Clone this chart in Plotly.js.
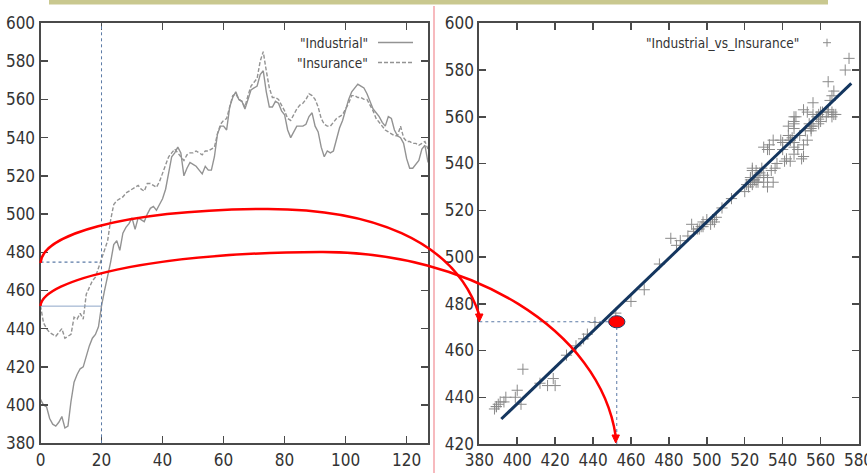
<!DOCTYPE html>
<html>
<head>
<meta charset="utf-8">
<script src="https://cdn.plot.ly/plotly-3.0.1.min.js"></script>
<style>
html,body{margin:0;padding:0;background:#fff;}
#chart{width:867px;height:473px;}
</style>
</head>
<body>
<div id="chart"></div>
<script>
// ---------- data ----------
var timeIndex = [];
for (var i = 0; i < 128; i++) timeIndex.push(i);

var industrial = [403,400,399,393,390,389,391,394,388,389,
  402,412,416,419,420,426,431,435,437,441,
  452,460,467,475,484,486,481,490,493,495,
  498,492,498,497,496,500,503,504,502,505,
  508,513,522,530,532,535,532,520,524,527,
  526,525,523,521,525,523,523,530,542,546,
  546,544,556,561,564,560,559,555,560,565,
  566,567,573,575,564,556,556,559,558,554,
  552,544,540,543,546,546,546,547,551,553,
  546,543,535,530,533,532,533,539,545,549,
  555,560,564,566,568,567,566,563,559,555,
  553,551,548,546,551,550,544,541,540,537,
  529,524,524,526,528,534,536,527];

var insurance = [452,443,440,438,437,436,438,440,435,436,
  437,446,445,448,445,458,462,465,467,472,
  476,481,486,497,505,507,508,509,511,512,
  513,514,515,513,512,516,516,515,514,517,
  521,525,530,532,534,532,530,528,531,532,
  532,533,532,531,533,533,534,535,542,547,
  549,550,556,562,563,560,559,556,562,567,
  569,571,580,585,575,566,561,561,560,557,
  554,550,549,552,555,557,558,560,563,562,
  560,556,550,547,546,546,548,550,551,552,
  555,558,562,562,561,561,560,560,557,554,
  550,548,546,544,543,542,541,541,546,540,
  538,538,537,537,536,537,538,534];

var fitX = [391.6, 576.2];
var fitY = [430.7, 574.3];

var seriesNames = ['"Industrial"', '"Insurance"', '"Industrial_vs_Insurance"'];
var markedPoint = {x: 452.5, y: 472.3};
var leftMarks = {t: 20, upper: 474.8, lower: 451.8};

// ---------- helpers ----------
var W = 867, H = 473;
function px(x){ return x / W; }
function py(y){ return 1 - y / H; }
function P(x, y){ return px(x).toFixed(5) + ',' + py(y).toFixed(5); }

var FONT = 'Liberation Sans Narrow, DejaVu Sans Condensed, Arial Narrow, sans-serif';
var GRAY = '#939393';
var AX = '#4a4a4a';
var GUIDE = '#5b7aa6';

function axisBase(range, domain){
  return {
    range: range, domain: domain, dtick: 20, tick0: 0,
    showgrid: false, zeroline: false,
    showline: true, linecolor: AX, linewidth: 2, mirror: 'ticks',
    ticks: 'inside', ticklen: 7, tickwidth: 1.5, tickcolor: AX,
    tickfont: {family: FONT, size: 17, color: '#333'},
    ticklabeloverflow: 'allow',
    fixedrange: true
  };
}

var traces = [
  {x: timeIndex, y: industrial, type: 'scatter', mode: 'lines',
   line: {color: GRAY, width: 1.4}, xaxis: 'x', yaxis: 'y', name: seriesNames[0], hoverinfo: 'skip'},
  {x: timeIndex, y: insurance, type: 'scatter', mode: 'lines',
   line: {color: GRAY, width: 1.4, dash: '4px,2px'}, xaxis: 'x', yaxis: 'y', name: seriesNames[1], hoverinfo: 'skip'},
  {x: industrial, y: insurance, type: 'scatter', mode: 'markers',
   marker: {symbol: 'cross-thin', size: 8, line: {color: '#8a8a8a', width: 1}},
   xaxis: 'x2', yaxis: 'y2', name: seriesNames[2], hoverinfo: 'skip'},
  {x: fitX, y: fitY, type: 'scatter', mode: 'lines',
   line: {color: '#14365f', width: 3}, xaxis: 'x2', yaxis: 'y2', hoverinfo: 'skip'}
];

var xa = axisBase([0, 127], [40.5/W, 428/W]);
var ya = axisBase([380, 600], [1-443.3/H, 1-23/H]);
var xa2 = axisBase([380, 580], [479.3/W, 858.5/W]);
var ya2 = axisBase([420, 600], [1-444/H, 1-23.3/H]);
xa.anchor = 'y'; ya.anchor = 'x';
xa2.anchor = 'y2'; ya2.anchor = 'x2';

var shapes = [
  // top band
  {type: 'rect', xref: 'paper', yref: 'paper', x0: px(49), x1: px(828), y0: py(4.5), y1: py(0),
   fillcolor: '#c9c88f', line: {width: 0}, layer: 'above'},
  // pink separator
  {type: 'line', xref: 'paper', yref: 'paper', x0: px(434), x1: px(434), y0: py(6), y1: py(473),
   line: {color: '#f5a3a8', width: 1.5}},
  // left guides
  {type: 'line', xref: 'x', yref: 'y', x0: leftMarks.t, x1: leftMarks.t, y0: 380, y1: 600,
   line: {color: GUIDE, width: 1, dash: 'dot'}},
  {type: 'line', xref: 'x', yref: 'y', x0: 0, x1: leftMarks.t, y0: leftMarks.upper, y1: leftMarks.upper,
   line: {color: GUIDE, width: 1.2, dash: 'dot'}},
  {type: 'line', xref: 'x', yref: 'y', x0: 0, x1: leftMarks.t, y0: leftMarks.lower, y1: leftMarks.lower,
   line: {color: '#8ea6c8', width: 1}},
  // right guides
  {type: 'line', xref: 'x2', yref: 'y2', x0: 380, x1: markedPoint.x, y0: markedPoint.y, y1: markedPoint.y,
   line: {color: GUIDE, width: 1, dash: 'dot'}},
  {type: 'line', xref: 'x2', yref: 'y2', x0: markedPoint.x, x1: markedPoint.x, y0: 420, y1: markedPoint.y,
   line: {color: GUIDE, width: 1, dash: 'dot'}},
  // marked ellipse
  {type: 'circle', xref: 'x2', yref: 'y2', x0: markedPoint.x - 4.3, x1: markedPoint.x + 4.3,
   y0: markedPoint.y - 2.6, y1: markedPoint.y + 2.6,
   fillcolor: '#ff0000', line: {color: '#1f3a66', width: 1}, layer: 'above'},
  // red curves
  {type: 'path', xref: 'paper', yref: 'paper',
   path: 'M' + P(40.5,263) + ' C' + P(42,235) + ' ' + P(120,211) + ' ' + P(258,209) +
         ' C' + P(370,207) + ' ' + P(455,240) + ' ' + P(479.3,315),
   line: {color: '#ff0000', width: 2.5}, layer: 'above'},
  {type: 'path', xref: 'paper', yref: 'paper',
   path: 'M' + P(40.5,306) + ' C' + P(42,280) + ' ' + P(150,253) + ' ' + P(320,252) +
         ' C' + P(470,251) + ' ' + P(600,330) + ' ' + P(615.7,436),
   line: {color: '#ff0000', width: 2.5}, layer: 'above'},
  // arrow heads
  {type: 'path', xref: 'paper', yref: 'paper',
   path: 'M' + P(475.5,314) + ' L' + P(483,314) + ' L' + P(479.3,322) + ' Z',
   fillcolor: '#ff0000', line: {color: '#ff0000', width: 1}, layer: 'above'},
  {type: 'path', xref: 'paper', yref: 'paper',
   path: 'M' + P(612,435) + ' L' + P(619.4,435) + ' L' + P(615.7,443) + ' Z',
   fillcolor: '#ff0000', line: {color: '#ff0000', width: 1}, layer: 'above'},
  // legend samples
  {type: 'line', xref: 'paper', yref: 'paper', x0: px(378), x1: px(413), y0: py(42.5), y1: py(42.5),
   line: {color: GRAY, width: 1.6}},
  {type: 'line', xref: 'paper', yref: 'paper', x0: px(378), x1: px(413), y0: py(62.5), y1: py(62.5),
   line: {color: GRAY, width: 1.4, dash: '4px,2px'}},
  {type: 'line', xref: 'paper', yref: 'paper', x0: px(823), x1: px(831), y0: py(42.7), y1: py(42.7),
   line: {color: '#8a8a8a', width: 1}},
  {type: 'line', xref: 'paper', yref: 'paper', x0: px(827), x1: px(827), y0: py(38.7), y1: py(46.7),
   line: {color: '#8a8a8a', width: 1}}
];

var LFONT = {family: FONT, size: 13.5, color: '#333'};
var annotations = [
  {xref: 'paper', yref: 'paper', x: px(370), y: py(42.5), xanchor: 'right', yanchor: 'middle',
   text: seriesNames[0], showarrow: false, font: LFONT},
  {xref: 'paper', yref: 'paper', x: px(370), y: py(62.5), xanchor: 'right', yanchor: 'middle',
   text: seriesNames[1], showarrow: false, font: LFONT},
  {xref: 'paper', yref: 'paper', x: px(801), y: py(43), xanchor: 'right', yanchor: 'middle',
   text: seriesNames[2], showarrow: false, font: LFONT}
];

var layout = {
  width: W, height: H,
  margin: {l: 0, r: 0, t: 0, b: 0, pad: 0},
  paper_bgcolor: '#ffffff', plot_bgcolor: '#ffffff',
  showlegend: false,
  xaxis: xa, yaxis: ya, xaxis2: xa2, yaxis2: ya2,
  shapes: shapes, annotations: annotations,
  hovermode: false
};

Plotly.newPlot('chart', traces, layout, {staticPlot: true, displayModeBar: false});
</script>
</body>
</html>
